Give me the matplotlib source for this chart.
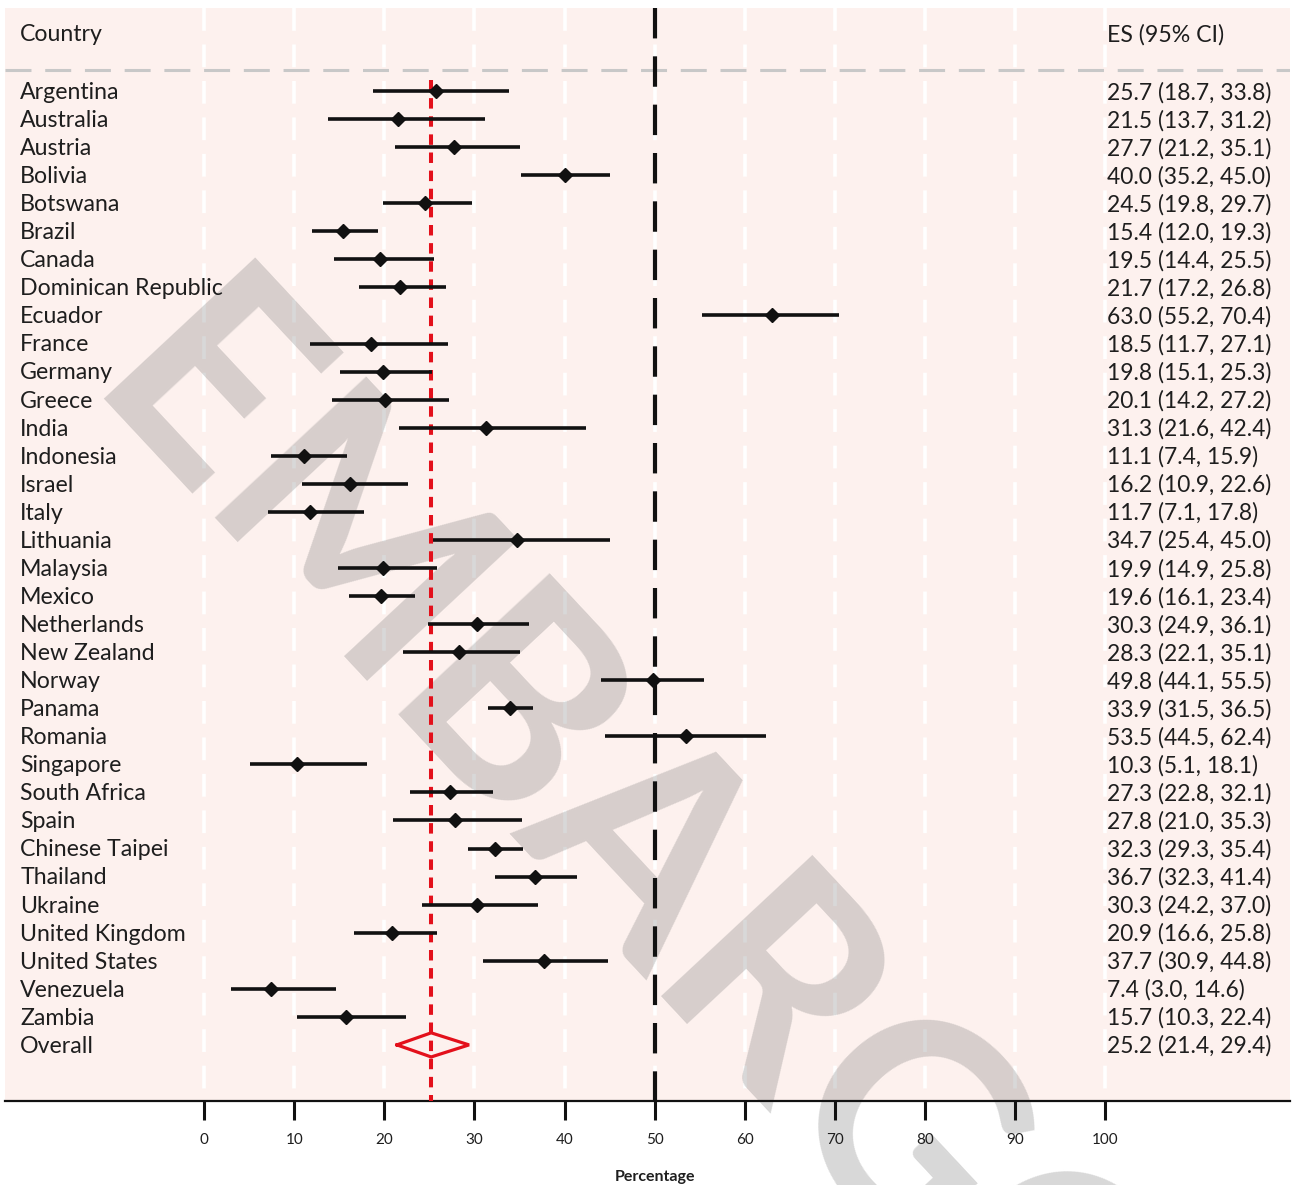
import matplotlib
matplotlib.use("Agg")
import matplotlib.pyplot as plt

# data
countries = ["Argentina", "Australia", "Austria", "Bolivia", "Botswana", "Brazil",
             "Canada", "Dominican Republic", "Ecuador", "France", "Germany", "Greece",
             "India", "Indonesia", "Israel", "Italy", "Lithuania", "Malaysia", "Mexico",
             "Netherlands", "New Zealand", "Norway", "Panama", "Romania", "Singapore",
             "South Africa", "Spain", "Chinese Taipei", "Thailand", "Ukraine",
             "United Kingdom", "United States", "Venezuela", "Zambia"]
es = [25.7, 21.5, 27.7, 40.0, 24.5, 15.4, 19.5, 21.7, 63.0, 18.5, 19.8, 20.1,
      31.3, 11.1, 16.2, 11.7, 34.7, 19.9, 19.6, 30.3, 28.3, 49.8, 33.9, 53.5,
      10.3, 27.3, 27.8, 32.3, 36.7, 30.3, 20.9, 37.7, 7.4, 15.7]
lo = [18.7, 13.7, 21.2, 35.2, 19.8, 12.0, 14.4, 17.2, 55.2, 11.7, 15.1, 14.2,
      21.6, 7.4, 10.9, 7.1, 25.4, 14.9, 16.1, 24.9, 22.1, 44.1, 31.5, 44.5,
      5.1, 22.8, 21.0, 29.3, 32.3, 24.2, 16.6, 30.9, 3.0, 10.3]
hi = [33.8, 31.2, 35.1, 45.0, 29.7, 19.3, 25.5, 26.8, 70.4, 27.1, 25.3, 27.2,
      42.4, 15.9, 22.6, 17.8, 45.0, 25.8, 23.4, 36.1, 35.1, 55.5, 36.5, 62.4,
      18.1, 32.1, 35.3, 35.4, 41.4, 37.0, 25.8, 44.8, 14.6, 22.4]
overall = [25.2, 21.4, 29.4]
ticks = [0, 10, 20, 30, 40, 50, 60, 70, 80, 90, 100]

pink = "#fdf1ee"
red = "#e3101b"
ink = "#111111"
txt = "#1e1e1e"
plt.rcParams["font.family"] = ["Lato", "DejaVu Sans"]

fig = plt.figure(figsize=(12.93, 11.85), dpi=100)
ax = fig.add_axes([5 / 1293, 1 - 1101 / 1185, 1285 / 1293, 1093 / 1185])
ax.set_facecolor(pink)

top, bottom = -1.96, 37.0
ax.set_xlim(-22.09, 120.5)
ax.set_ylim(bottom, top)

# white dashed grid
for t in ticks:
    ax.plot([t, t], [top, bottom], color="white", lw=2.6, ls=(0, (6.3, 3.8)), zorder=1)

# header separator
ax.plot([-22.09, 120.5], [0.25, 0.25], color="#c8c8c8", lw=2.2, ls=(0, (8.5, 4.5)), zorder=1.2)

# reference line at 50
ax.plot([50, 50], [top, bottom], color=ink, lw=3.0, ls=(0, (7.3, 4.3)), zorder=3)

# overall estimate line
ax.plot([overall[0], overall[0]], [0.6, bottom], color=red, lw=2.9, ls=(0, (2.6, 1.9)), zorder=3)

rows = list(range(1, len(countries) + 1))
ax.hlines(rows, lo, hi, color=ink, lw=2.6, zorder=4)
ax.plot(es, rows, "D", ms=7.6, color=ink, zorder=5)

oy = len(countries) + 1
h = 0.43
ax.plot([overall[1], overall[0], overall[2], overall[0], overall[1]],
        [oy, oy - h, oy, oy + h, oy], color=red, lw=2.3, zorder=5, solid_joinstyle="miter")

fs = 16.7
ax.text(-20.4, -1.0, "Country", fontsize=fs, color=txt, va="center", ha="left")
ax.text(100.2, -1.0, "ES (95% CI)", fontsize=fs, color=txt, va="center", ha="left")
labels = countries + ["Overall"]
vals = list(zip(es, lo, hi)) + [tuple(overall)]
for r, name, (e, l, u) in zip(range(1, oy + 1), labels, vals):
    ax.text(-20.4, r + 0.05, name, fontsize=fs, color=txt, va="center", ha="left", zorder=6)
    ax.text(100.2, r + 0.05, f"{e:.1f} ({l:.1f}, {u:.1f})", fontsize=fs - 0.3, color=txt,
            va="center", ha="left", zorder=6)

# axes styling
for s in ["top", "left", "right"]:
    ax.spines[s].set_visible(False)
ax.spines["bottom"].set_linewidth(1.6)
ax.spines["bottom"].set_color(ink)
ax.set_yticks([])
ax.set_xticks(ticks)
ax.tick_params(axis="x", length=14, width=2.2, color=ink, pad=9, labelsize=11, labelcolor=txt)
ax.set_axisbelow(False)
ax.set_xlabel("Percentage", fontsize=11.5, fontweight="bold", color=txt)
ax.xaxis.set_label_coords((655 - 5) / 1285, -0.063)

# watermark
ax.text(630 / 1293, 1 - 868 / 1185, "EMBARGO", transform=fig.transFigure,
        fontsize=205, fontweight="bold", color="#7a7a7a", alpha=0.29,
        rotation=-47, rotation_mode="anchor", ha="center", va="center",
        zorder=2, clip_on=False)

fig.savefig("out.png", dpi=100)
